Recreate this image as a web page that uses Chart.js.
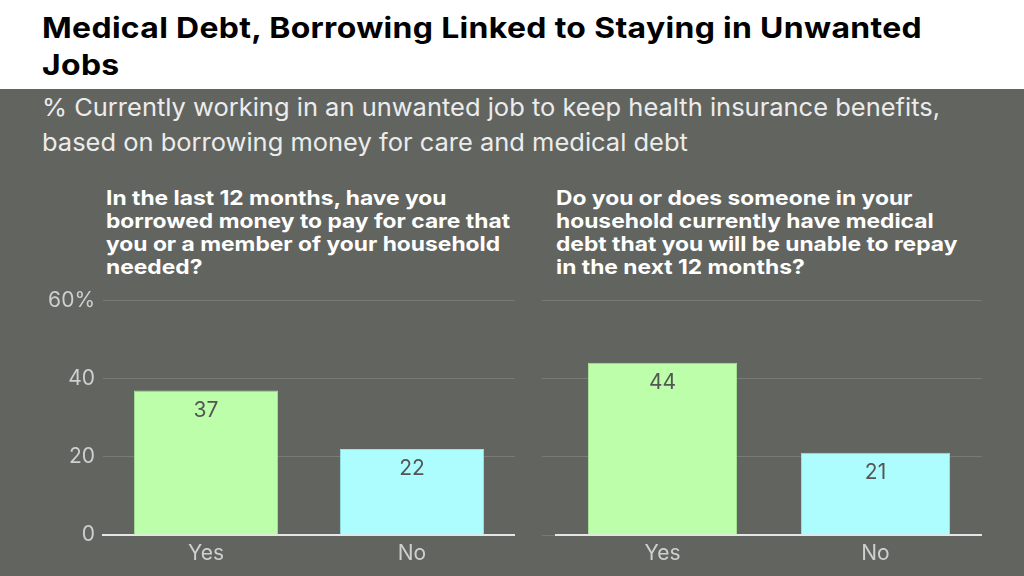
<!DOCTYPE html>
<html>
<head>
<meta charset="utf-8">
<script src="https://cdn.jsdelivr.net/npm/chart.js@4"></script>
<style>
  html, body { margin:0; padding:0; }
  body { width:1024px; height:576px; background:#62645f; position:relative; overflow:hidden; font-family:Inter, sans-serif; }
  #head { position:absolute; left:0; top:0; width:1024px; height:89px; background:#ffffff; }
  #title { position:absolute; left:42px; top:9px; font-family:Inter, sans-serif; font-weight:700; font-size:28.5px; line-height:37px; letter-spacing:0.3px; color:#000; white-space:nowrap; transform:scaleX(1.12); transform-origin:0 0; }
  #sub { position:absolute; left:42px; top:90px; font-family:Inter, sans-serif; font-size:24.5px; line-height:35px; color:#ececec; white-space:nowrap; transform:scaleX(1.04); transform-origin:0 0; }
  .ptitle { position:absolute; top:187px; font-family:Inter, sans-serif; font-weight:700; font-size:20px; line-height:23px; color:#ffffff; white-space:nowrap; transform:scaleX(1.14); transform-origin:0 0; }
  #pt1 { left:106px; }
  #pt2 { left:556px; }
  .cw { position:absolute; }
  #c1w { left:30px; top:280px; width:485px; height:296px; }
  #c2w { left:540px; top:285px; width:442px; height:291px; }
</style>
</head>
<body>
<div id="head"></div>
<div id="title">Medical Debt, Borrowing Linked to Staying in Unwanted<br>Jobs</div>
<div id="sub">% Currently working in an unwanted job to keep health insurance benefits,<br>based on borrowing money for care and medical debt</div>
<div class="ptitle" id="pt1">In the last 12 months, have you<br>borrowed money to pay for care that<br>you or a member of your household<br>needed?</div>
<div class="ptitle" id="pt2">Do you or does someone in your<br>household currently have medical<br>debt that you will be unable to repay<br>in the next 12 months?</div>
<div class="cw" id="c1w"><canvas id="c1"></canvas></div>
<div class="cw" id="c2w"><canvas id="c2"></canvas></div>
<script>
const categories = ["Yes", "No"];
const borrowedValues = [37, 22];
const medicalDebtValues = [44, 21];
const yTicks = [0, 20, 40, 60];
const barColors = ["#bdfeab", "#adfdfe"];
const barBorders = ["#a6e496", "#96e3e4"];

const valueLabels = {
  id: "valueLabels",
  afterDatasetsDraw(chart) {
    const ctx = chart.ctx;
    const meta = chart.getDatasetMeta(0);
    const data = chart.data.datasets[0].data;
    ctx.save();
    ctx.font = "21px Inter, sans-serif";
    ctx.fillStyle = "#555555";
    ctx.textAlign = "center";
    ctx.textBaseline = "middle";
    meta.data.forEach((bar, i) => {
      ctx.fillText(String(data[i]), bar.x, bar.y + 20);
    });
    ctx.restore();
  }
};

function makeChart(id, values, showYLabels, yWidth, padTop) {
  return new Chart(document.getElementById(id), {
    type: "bar",
    data: {
      labels: categories,
      datasets: [{
        data: values,
        backgroundColor: barColors,
        borderColor: barBorders,
        borderWidth: 1,
        categoryPercentage: 0.7,
        barPercentage: 1.0
      }]
    },
    options: {
      responsive: true,
      maintainAspectRatio: false,
      animation: false,
      layout: { padding: { top: padTop, right: 0, left: 0, bottom: 0 } },
      plugins: { legend: { display: false }, tooltip: { enabled: false } },
      scales: {
        x: {
          grid: { display: false, drawTicks: false },
          border: { display: true, color: "#e6e6e6", width: 2 },
          ticks: { color: "#cfcfcf", font: { size: 21, family: "Inter, sans-serif" }, padding: 6 },
          afterFit(scale) { scale.height = 41; }
        },
        y: {
          min: 0, max: 60,
          afterBuildTicks(scale) { scale.ticks = yTicks.map(v => ({ value: v })); },
          grid: { color: "#787a75", lineWidth: 1, drawTicks: !showYLabels, tickLength: 14 },
          border: { display: false },
          ticks: {
            display: showYLabels,
            color: "#cfcfcf",
            font: { size: 21, family: "Inter, sans-serif" },
            padding: 8,
            callback: (v) => v === 60 ? v + "%" : String(v)
          },
          afterFit(scale) { scale.width = yWidth; }
        }
      }
    },
    plugins: [valueLabels]
  });
}

makeChart("c1", borrowedValues, true, 73, 8);
makeChart("c2", medicalDebtValues, false, 16, 15);
</script>
</body>
</html>
